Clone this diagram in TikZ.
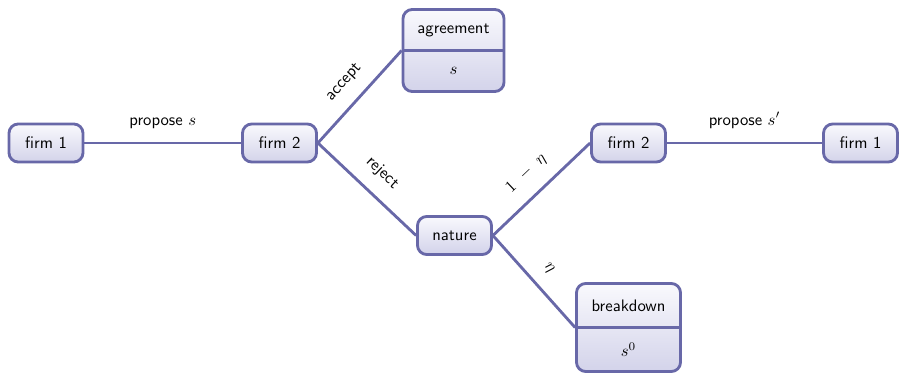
\documentclass[tikz,border=0pt]{standalone}
\usetikzlibrary{positioning}
\definecolor{edgeblue}{RGB}{104,104,168}
\definecolor{filltop}{RGB}{249,249,253}
\definecolor{fillbot}{RGB}{211,211,234}
\tikzset{
  treebox/.style={draw=edgeblue, line width=1.7pt, rounded corners=5.5pt,
    top color=filltop, bottom color=fillbot, inner sep=0pt,
    font=\sffamily, align=center},
  player/.style={treebox, minimum width=44.4pt, minimum height=22.8pt},
  outcome/.style={treebox},
  branch/.style={draw=edgeblue, line width=1.7pt},
  blabel/.style={midway, sloped, above=8pt, inner sep=0pt, font=\sffamily}
}
\begin{document}
\begin{tikzpicture}[x=0.6pt, y=-0.6pt]
  \useasboundingbox (0,0) rectangle (899,375);

  % decision nodes
  \node[player] (f1)  at (46,143)    {firm 1};
  \node[player] (f2)  at (279.5,143) {firm 2};
  \node[player] (nat) at (454.5,235.5) {nature};
  \node[player] (f2b) at (628.5,143) {firm 2};
  \node[player] (f1b) at (860.5,143) {firm 1};

  % terminal outcomes, split into name and payoff
  \node[outcome, minimum width=60.6pt, minimum height=49.2pt] (agr) at (453.5,50.5) {};
  \draw[edgeblue, line width=1.7pt] (agr.west) -- (agr.east);
  \node[font=\sffamily] (agrname) at ([yshift=12.3pt]agr.center) {agreement};
  \node (agrpay) at ([yshift=-12.3pt]agr.center) {$s$};

  \node[outcome, minimum width=62.4pt, minimum height=52.8pt] (bd) at (628.5,327.5) {};
  \draw[edgeblue, line width=1.7pt] (bd.west) -- (bd.east);
  \node[font=\sffamily] (bdname) at ([yshift=13.2pt]bd.center) {breakdown};
  \node (bdpay) at ([yshift=-13.2pt]bd.center) {$s^0$};

  % branches
  \draw[branch] (f1.east)  -- node[blabel] {propose $s$} (f2.west);
  \draw[branch] (f2.east)  -- node[blabel] {accept} (agr.west);
  \draw[branch] (f2.east)  -- node[blabel] {reject} (nat.west);
  \draw[branch] (nat.east) -- node[blabel] {$1\ -\ \eta$} (f2b.west);
  \draw[branch] (nat.east) -- node[blabel] {$\eta$} (bd.west);
  \draw[branch] (f2b.east) -- node[blabel] {propose $s'$} (f1b.west);
\end{tikzpicture}
\end{document}
